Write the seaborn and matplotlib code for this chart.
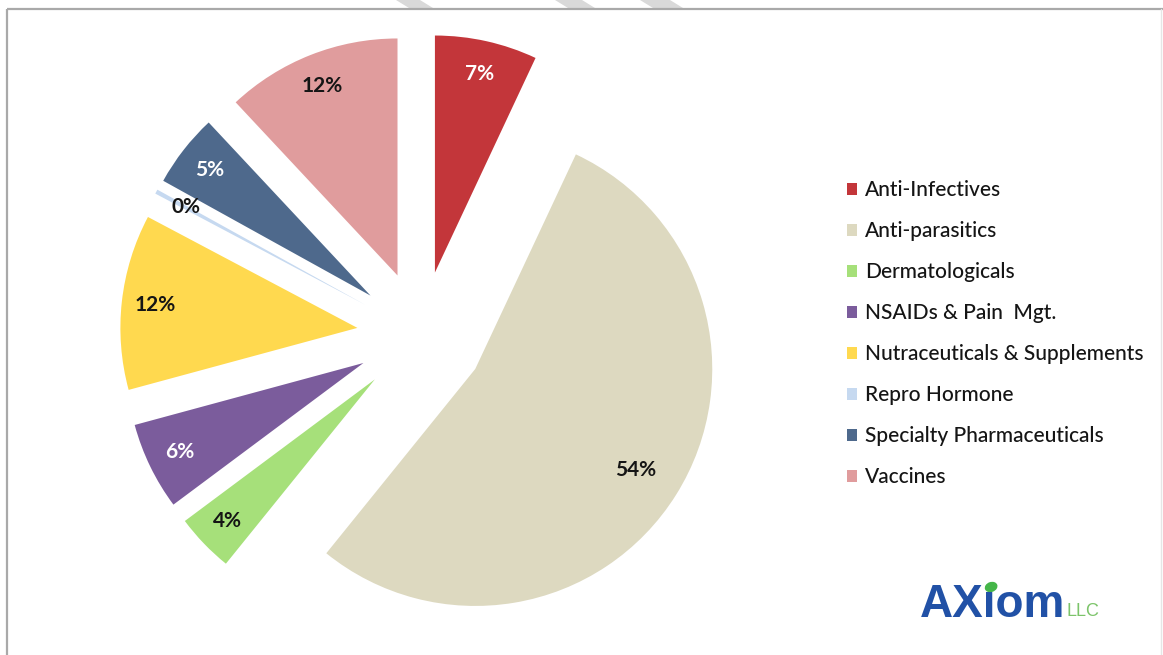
import numpy as np
import pandas as pd
import seaborn as sns
import matplotlib
matplotlib.use("Agg")
import matplotlib.pyplot as plt
from matplotlib.patches import Patch, Polygon, Ellipse
from matplotlib.lines import Line2D

# Market share by product segment
categories = [
    "Anti-Infectives",
    "Anti-parasitics",
    "Dermatologicals",
    "NSAIDs & Pain  Mgt.",
    "Nutraceuticals & Supplements",
    "Repro Hormone",
    "Specialty Pharmaceuticals",
    "Vaccines",
]
shares = [7, 54, 4, 6, 12, 0.3, 5, 12]
slice_colors = ["#C3363A", "#DDD9C0", "#A6E07A", "#7B5C9C",
                "#FFD94F", "#C6D9F0", "#4E698C", "#E09C9D"]
label_colors = ["white", "#151515", "#151515", "white",
                "#151515", "#151515", "white", "#151515"]

df = pd.DataFrame({"segment": categories, "share": shares,
                   "color": slice_colors, "label_color": label_colors})

sns.set_theme(style="white")
plt.rcParams["font.family"] = ["Lato", "DejaVu Sans"]

W, H = 1163, 655
fig = plt.figure(figsize=(W / 100, H / 100), dpi=100)
ax = fig.add_axes([0, 0, 1, 1])

# pie geometry in pixel units (y grows upward)
R = 237
E = 64
center = (421, H - 335)

wedges, texts, autotexts = ax.pie(
    df["share"], colors=df["color"], startangle=90, counterclock=False,
    radius=R, center=center, explode=[E] * len(df),
    autopct="%1.0f%%", pctdistance=0.86,
    wedgeprops=dict(linewidth=0),
    textprops=dict(fontsize=15, fontweight="bold"),
)
for t, c in zip(autotexts, df["label_color"]):
    t.set_color(c)

# pull the large-slice label slightly inward
w = wedges[1]
cx, cy = w.center
px, py = autotexts[1].get_position()
k = 0.8 / 0.86
autotexts[1].set_position((cx + (px - cx) * k, cy + (py - cy) * k))

ax.set_xlim(0, W)
ax.set_ylim(0, H)
ax.set_aspect("equal")
ax.axis("off")

# legend
handles = [Patch(facecolor=c, edgecolor="none") for c in df["color"]]
leg = ax.legend(
    handles, df["segment"], loc="upper left",
    bbox_to_anchor=(847, H - 180), bbox_transform=ax.transData,
    frameon=False, handlelength=0.5, handleheight=0.5,
    handletextpad=0.35, labelspacing=1.01, borderpad=0, borderaxespad=0,
    prop=dict(family=["Lato", "DejaVu Sans"], size=15, weight="medium"),
)
for txt in leg.get_texts():
    txt.set_color("#151515")

# frame around the chart area
frame_kw = dict(color="#A9A9A9", linewidth=1.6, solid_capstyle="butt")
ax.add_line(Line2D([7, W], [H - 9, H - 9], **frame_kw))
ax.add_line(Line2D([7, 7], [0, H - 9], **frame_kw))
ax.add_line(Line2D([1161, 1161], [0, H - 9], color="#E6E6E6", linewidth=1))

# faint diagonal bands above the frame
for x0, x1 in [(396, 420), (555, 582), (640, 670)]:
    ax.add_patch(Polygon([(x0, H), (x1, H), (x1 + 13, H - 8), (x0 + 13, H - 8)],
                         closed=True, facecolor="#D9D9D9", edgecolor="none"))

# company logo: wordmark with a leaf as the dot of the i
logo_kw = dict(color="#2151A6", fontsize=33, fontweight="bold",
               family="Liberation Sans", va="baseline", ha="left")
x0, base = 920, H - 617
ax.text(x0, base, "AXıom", **logo_kw)
fig.canvas.draw()
renderer = fig.canvas.get_renderer()
probe_ax = ax.text(x0, base, "AX", **logo_kw)
probe_i = ax.text(x0, base, "ı", **logo_kw)
w_ax = probe_ax.get_window_extent(renderer).width
w_i = probe_i.get_window_extent(renderer).width
probe_ax.remove()
probe_i.remove()
ax.add_patch(Ellipse((x0 + w_ax + w_i / 2 + 1, H - 587), 13, 10, angle=20,
                     facecolor="#45B649", edgecolor="none"))
ax.text(1067, H - 616, "LLC", color="#7CC46A", fontsize=13,
        family="Liberation Sans", va="baseline", ha="left")

fig.savefig("out.png", dpi=100, facecolor="white")
